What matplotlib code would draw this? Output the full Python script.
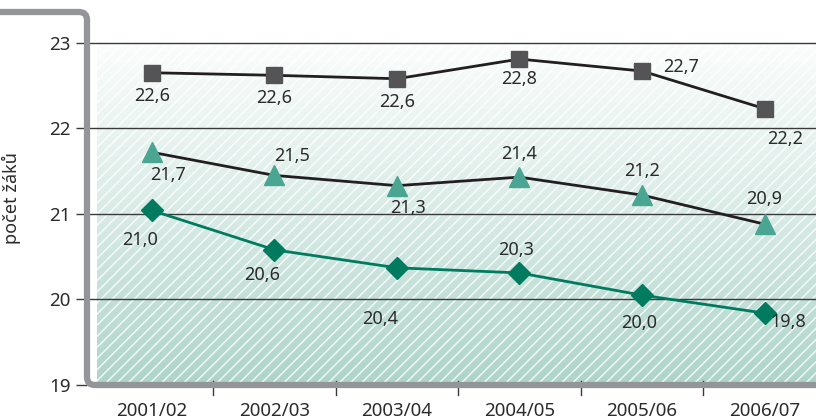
import matplotlib
matplotlib.use('Agg')
import matplotlib.pyplot as plt
import numpy as np
from matplotlib.path import Path
from matplotlib.patches import PathPatch, Rectangle

years = ['2001/02', '2002/03', '2003/04', '2004/05', '2005/06', '2006/07']
squares = [22.65, 22.62, 22.58, 22.81, 22.67, 22.23]
triangles = [21.72, 21.45, 21.33, 21.43, 21.22, 20.88]
diamonds = [21.04, 20.58, 20.37, 20.31, 20.05, 19.84]
square_labels = ['22,6', '22,6', '22,6', '22,8', '22,7', '22,2']
triangle_labels = ['21,7', '21,5', '21,3', '21,4', '21,2', '20,9']
diamond_labels = ['21,0', '20,6', '20,4', '20,3', '20,0', '19,8']

# label offsets in pixels (dx, dy), dy positive = up
square_off = [(0, -23), (0, -23), (0, -23), (0, -20), (39, 4), (21, -30)]
triangle_off = [(16, -23), (18, 19), (11, -22), (0, 23), (0, 24), (0, 25)]
diamond_off = [(-12, -30), (-12, -25), (-17, -51), (-3, 23), (-3, -28), (24, -9)]

plt.rcParams['font.family'] = ['Noto Sans', 'DejaVu Sans']
plt.rcParams['hatch.linewidth'] = 1.1
txt = '#2b2b2b'

fig = plt.figure(figsize=(8.16, 4.2), dpi=100)
W, H = 816, 420
ax = fig.add_axes([87 / W, 1 - 385 / H, 1 - 87 / W, (385 - 12) / H])
x = np.arange(len(years))
ax.set_xlim(-0.53, 5.42)
ax.set_ylim(19, 23.36)

# background gradient + white hatch
grad = np.linspace(0, 1, 256).reshape(-1, 1)
cmap = matplotlib.colors.LinearSegmentedColormap.from_list('g', ['#fbfdfc', '#d9ebe6', '#add4ca'])
ax.imshow(grad, extent=(-0.45, 5.42, 19, 23), aspect='auto', cmap=cmap, zorder=0,
          origin='upper')
ax.add_patch(Rectangle((-0.45, 19), 5.9, 4, facecolor='none', edgecolor=(1, 1, 1, 0.8),
                       hatch='///', linewidth=0, zorder=0.5))

for yv in [20, 21, 22, 23]:
    ax.axhline(yv, color='#3a3a3a', lw=1, zorder=1)

ax.plot(x, squares, color='#231f20', lw=2, marker='s', ms=12,
        mfc='#545456', mec='#545456', zorder=3)
ax.plot(x, triangles, color='#231f20', lw=2, marker='^', ms=14,
        mfc='#4aa693', mec='#4aa693', zorder=3)
ax.plot(x, diamonds, color='#007b5f', lw=2, marker='D', ms=11,
        mfc='#007b5f', mec='#007b5f', zorder=3)

for vals, labs, offs in [(squares, square_labels, square_off),
                         (triangles, triangle_labels, triangle_off),
                         (diamonds, diamond_labels, diamond_off)]:
    for i, (v, lab) in enumerate(zip(vals, labs)):
        ax.annotate(lab, (x[i], v), xytext=offs[i], textcoords='offset pixels',
                    ha='center', va='center', fontsize=13, color=txt, zorder=4)

for s in ax.spines.values():
    s.set_visible(False)
ax.set_xticks(x)
ax.set_xticklabels(years, fontsize=13.5, color=txt)
ax.tick_params(axis='x', length=0, pad=12)
ax.set_yticks([19, 20, 21, 22, 23])
ax.set_yticklabels(['19', '20', '21', '22', '23'], fontsize=13.5, color=txt)
ax.tick_params(axis='y', length=8, width=1, color='#3a3a3a', pad=4)
ax.set_ylabel('počet žáků', fontsize=13, color=txt, labelpad=20)

# gray frame with rounded corners (figure pixels)
r = 8
verts = [(0, 12), (87 - r, 12), (87, 12), (87, 12 + r), (87, 385 - r), (87, 385),
         (87 + r, 385), (816, 385)]
codes = [Path.MOVETO, Path.LINETO, Path.CURVE3, Path.CURVE3, Path.LINETO,
         Path.CURVE3, Path.CURVE3, Path.LINETO]
verts = [(vx / W, 1 - vy / H) for vx, vy in verts]
fig.patches.append(PathPatch(Path(verts, codes), transform=fig.transFigure,
                             facecolor='none', edgecolor='#939598', lw=4.5,
                             capstyle='butt'))

# separator ticks between categories
for xm in x[:-1] + 0.5:
    ax.plot([xm, xm], [19 - 0.12, 19 + 0.05], color='#3a3a3a', lw=1, clip_on=False, zorder=6)

fig.savefig('out.png', dpi=100)
